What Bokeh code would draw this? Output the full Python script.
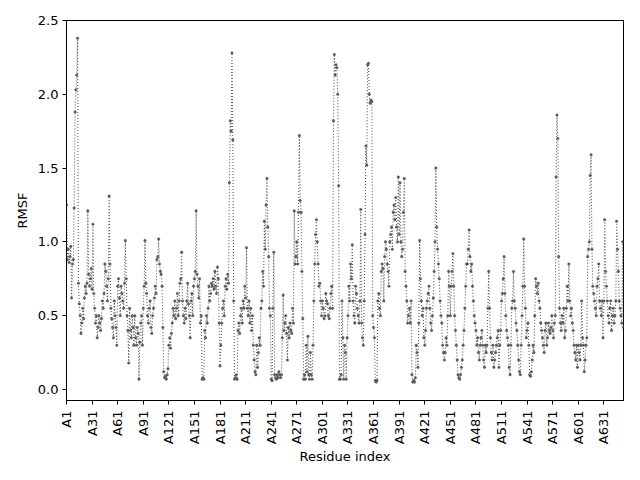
import math
from bokeh.plotting import figure
from bokeh.models import Range1d, FixedTicker, PrintfTickFormatter
from bokeh.embed import file_html
from bokeh.resources import INLINE

rmsf = [
    1.25, 0.88, 0.95, 0.86, 0.9, 0.97, 0.62, 0.85, 0.88, 1.23,
    1.88, 2.03, 2.13, 2.38, 0.72, 0.58, 0.5, 0.38, 0.45, 0.55,
    0.48, 0.62, 0.7, 0.65, 0.72, 1.21, 0.78, 0.7, 0.75, 0.82,
    0.68, 1.12, 0.65, 0.55, 0.45, 0.5, 0.35, 0.42, 0.5, 0.45,
    0.4, 0.48, 0.6, 0.55, 0.65, 0.85, 0.8, 0.7, 0.6, 0.75,
    1.31, 0.85, 0.55, 0.48, 0.42, 0.35, 0.6, 0.5, 0.42, 0.3,
    0.7, 0.75, 0.62, 0.5, 0.7, 0.65, 0.6, 0.55, 0.72, 1.01,
    0.75, 0.5, 0.4, 0.18, 0.55, 0.4, 0.35, 0.5, 0.42, 0.3,
    0.5, 0.35, 0.3, 0.42, 0.38, 0.07, 0.32, 0.45, 0.5, 0.3,
    0.55, 0.7, 1.01, 0.72, 0.65, 0.5, 0.45, 0.55, 0.6, 0.42,
    0.38, 0.5, 0.55, 0.62, 0.7, 0.65, 0.88, 0.9, 1.02, 0.85,
    0.8, 0.78, 0.7, 0.42, 0.12, 0.08, 0.09, 0.07, 0.1, 0.14,
    0.3, 0.35, 0.28, 0.38, 0.45, 0.55, 0.5, 0.6, 0.48, 0.55,
    0.65, 0.5, 0.6, 0.72, 0.75, 0.93, 0.6, 0.5, 0.45, 0.55,
    0.48, 0.6, 0.72, 0.58, 0.5, 0.35, 0.6, 0.65, 0.5, 0.7,
    0.75, 0.8, 1.21, 0.78, 0.7, 0.62, 0.75, 0.45, 0.5, 0.07,
    0.08, 0.07, 0.4, 0.35, 0.5, 0.45, 0.55, 0.7, 0.6, 0.65,
    0.72, 0.7, 0.75, 0.68, 0.8, 0.7, 0.65, 0.83, 0.75, 0.45,
    0.16, 0.3, 0.45, 0.55, 0.6, 0.5, 0.7, 0.75, 0.68, 0.78,
    0.72, 1.4, 1.82, 1.75, 2.28, 1.69, 0.6, 0.07, 0.08, 0.1,
    0.07, 0.4, 0.45, 0.38, 0.5, 0.55, 0.45, 0.6, 0.55, 0.7,
    0.62, 0.96, 0.55, 0.5, 0.6, 0.45, 0.55, 0.4, 0.5, 0.3,
    0.2, 0.12, 0.1, 0.3, 0.15, 0.25, 0.35, 0.3, 0.55, 0.6,
    0.8, 0.7, 1.14, 0.95, 1.25, 1.43, 1.1, 0.9, 0.55, 0.5,
    0.07, 0.06, 0.55, 0.93, 0.1, 0.08, 0.07, 0.1, 0.08, 0.12,
    0.1, 0.08, 0.1, 0.35, 0.64, 0.4, 0.45, 0.5, 0.38, 0.2,
    0.42, 0.35, 0.45, 0.4, 0.38, 0.55, 0.45, 1.21, 0.85, 0.9,
    1.0, 0.85, 1.2, 1.72, 1.28, 1.2, 0.8, 0.48, 0.07, 0.1,
    0.07, 0.3, 0.12, 0.36, 0.1, 0.07, 0.25, 0.1, 0.07, 0.3,
    0.6, 0.85, 1.05, 1.15, 1.0, 0.85, 0.7, 0.72, 0.6, 0.5,
    0.6, 0.55, 0.48, 0.5, 0.65, 0.6, 0.58, 0.5, 0.48, 0.55,
    0.65, 0.7, 0.55, 1.82, 2.27, 2.13, 2.2, 2.18, 2.0, 1.38,
    0.07, 0.07, 0.1, 0.6, 0.35, 0.07, 0.3, 0.25, 0.07, 0.35,
    0.5, 0.7, 0.6, 0.85, 0.75, 0.98, 0.6, 0.5, 0.45, 0.7,
    0.65, 0.55, 0.5, 0.45, 0.6, 1.22, 0.45, 0.35, 0.3, 0.6,
    1.05, 1.65, 1.52, 2.2, 2.21, 2.0, 1.94, 1.96, 1.95, 0.5,
    0.42, 0.35, 0.06, 0.05, 0.06, 0.6, 0.65, 0.55, 0.5, 0.8,
    0.85, 0.82, 0.6, 0.9, 1.0, 0.95, 0.85, 0.8, 0.7, 1.0,
    1.05, 1.1, 0.95, 1.2, 1.25, 1.15, 1.3, 1.1, 1.0, 1.44,
    1.05, 1.4, 1.0, 0.9, 0.95, 1.2, 1.43, 0.8, 0.7, 0.6,
    0.45, 0.5, 0.55, 0.45, 0.6, 0.1, 0.05, 0.06, 0.05, 0.08,
    0.3, 0.25, 0.15, 0.45, 1.01, 0.75, 0.6, 0.5, 0.55, 0.35,
    0.3, 0.4, 0.55, 0.6, 0.65, 0.7, 0.55, 0.45, 0.4, 0.5,
    0.62, 0.8, 1.0, 1.5, 1.1, 0.95, 0.85, 0.75, 0.6, 0.5,
    0.45, 0.3, 0.25, 0.2, 0.25, 0.35, 0.3, 0.5, 0.8, 0.7,
    0.5, 0.7, 0.8, 0.92, 0.7, 0.5, 0.4, 0.3, 0.2, 0.1,
    0.08, 0.07, 0.1, 0.15, 0.2, 0.3, 0.4, 0.55, 0.7, 0.85,
    0.85, 0.95, 1.08, 0.9, 0.8, 0.85, 0.7, 0.6, 0.5, 0.45,
    0.4, 0.3, 0.35, 0.25, 0.2, 0.3, 0.35, 0.4, 0.3, 0.2,
    0.15, 0.3, 0.25, 0.3, 0.55, 0.8, 0.55, 0.35, 0.25, 0.2,
    0.3, 0.15, 0.2, 0.25, 0.3, 0.35, 0.4, 0.15, 0.3, 0.4,
    0.6, 0.65, 0.75, 0.9, 0.65, 0.5, 0.4, 0.35, 0.3, 0.15,
    0.1, 0.3, 0.55, 0.6, 0.8, 0.6, 0.55, 0.45, 0.4, 0.3,
    0.2, 0.12, 0.1, 0.3, 0.5, 0.7, 1.02, 0.7, 0.55, 0.35,
    0.4, 0.45, 0.3, 0.1, 0.09, 0.12, 0.2, 0.3, 0.25, 0.5,
    0.75, 0.7, 0.65, 0.72, 0.6, 0.55, 0.45, 0.4, 0.35, 0.3,
    0.25, 0.4, 0.45, 0.3, 0.35, 0.45, 0.4, 0.38, 0.42, 0.5,
    0.4, 0.35, 0.45, 0.5, 1.44, 1.86, 1.7, 0.9, 0.55, 0.45,
    0.4, 0.5, 0.45, 0.55, 0.35, 0.4, 0.55, 0.7, 0.6, 0.85,
    0.6, 0.5, 0.55, 0.45, 0.4, 0.3, 0.25, 0.2, 0.3, 0.15,
    0.3, 0.25, 0.2, 0.3, 0.6, 0.35, 0.3, 0.12, 0.2, 0.3,
    0.35, 0.9, 0.95, 1.0, 1.45, 1.59, 0.95, 0.7, 0.65, 0.6,
    0.55, 0.5, 0.7, 0.75, 0.85, 0.6, 0.55, 0.5, 0.6, 0.35,
    0.6, 1.15, 0.8, 0.7, 0.6, 0.5, 0.45, 0.55, 0.6, 0.4,
    0.5, 0.55, 0.45, 0.5, 0.6, 1.14, 0.95, 0.8, 0.6, 0.55,
    0.5, 0.45, 1.0, 0.42,
]
residue_index = list(range(len(rmsf)))

x_tick_positions = [0, 30, 60, 90, 120, 150, 180, 210, 240, 270, 300,
                    330, 360, 390, 420, 450, 480, 510, 540, 570, 600, 630]
x_tick_labels = ["A1", "A31", "A61", "A91", "A121", "A151", "A181", "A211",
                 "A241", "A271", "A301", "A331", "A361", "A391", "A421",
                 "A451", "A481", "A511", "A541", "A571", "A601", "A631"]
y_ticks = [0.0, 0.5, 1.0, 1.5, 2.0, 2.5]

FONT = "DejaVu Sans"
FS = "13px"
COLOR = "#5a5a5a"

p = figure(width=632, height=472, output_backend="svg", toolbar_location=None,
           x_range=Range1d(0, len(rmsf) - 1), y_range=Range1d(-0.0745, 2.5),
           min_border_left=66, min_border_right=9, min_border_top=20,
           min_border_bottom=72)

p.line(residue_index, rmsf, line_color=COLOR, line_width=1.1, line_dash="1 2")
p.scatter(residue_index, rmsf, size=2.6, fill_color=COLOR, line_color=COLOR,
          line_width=0.4)

p.xgrid.visible = False
p.ygrid.visible = False
p.outline_line_color = "black"
p.outline_line_width = 1
p.outline_line_alpha = 1
p.background_fill_color = "white"
p.border_fill_color = "white"

p.xaxis.ticker = FixedTicker(ticks=x_tick_positions)
p.xaxis.major_label_overrides = {t: l for t, l in zip(x_tick_positions, x_tick_labels)}
p.xaxis.major_label_orientation = math.pi / 2
p.yaxis.ticker = FixedTicker(ticks=y_ticks)
p.yaxis.formatter = PrintfTickFormatter(format="%.1f")

p.xaxis.axis_label = "Residue index"
p.yaxis.axis_label = "RMSF"

for ax in (p.xaxis[0], p.yaxis[0]):
    ax.axis_line_color = "black"
    ax.major_tick_line_color = "black"
    ax.major_tick_out = 4
    ax.major_tick_in = 0
    ax.minor_tick_line_color = None
    ax.major_label_text_font = FONT
    ax.major_label_text_font_size = FS
    ax.major_label_text_color = "black"
    ax.axis_label_text_font = FONT
    ax.axis_label_text_font_size = FS
    ax.axis_label_text_font_style = "normal"
    ax.axis_label_text_color = "black"

p.xaxis.major_label_standoff = 6
p.yaxis.major_label_standoff = 4
p.xaxis.axis_label_standoff = 2
p.yaxis.axis_label_standoff = 5

open("out.html", "w").write(file_html(p, INLINE))
